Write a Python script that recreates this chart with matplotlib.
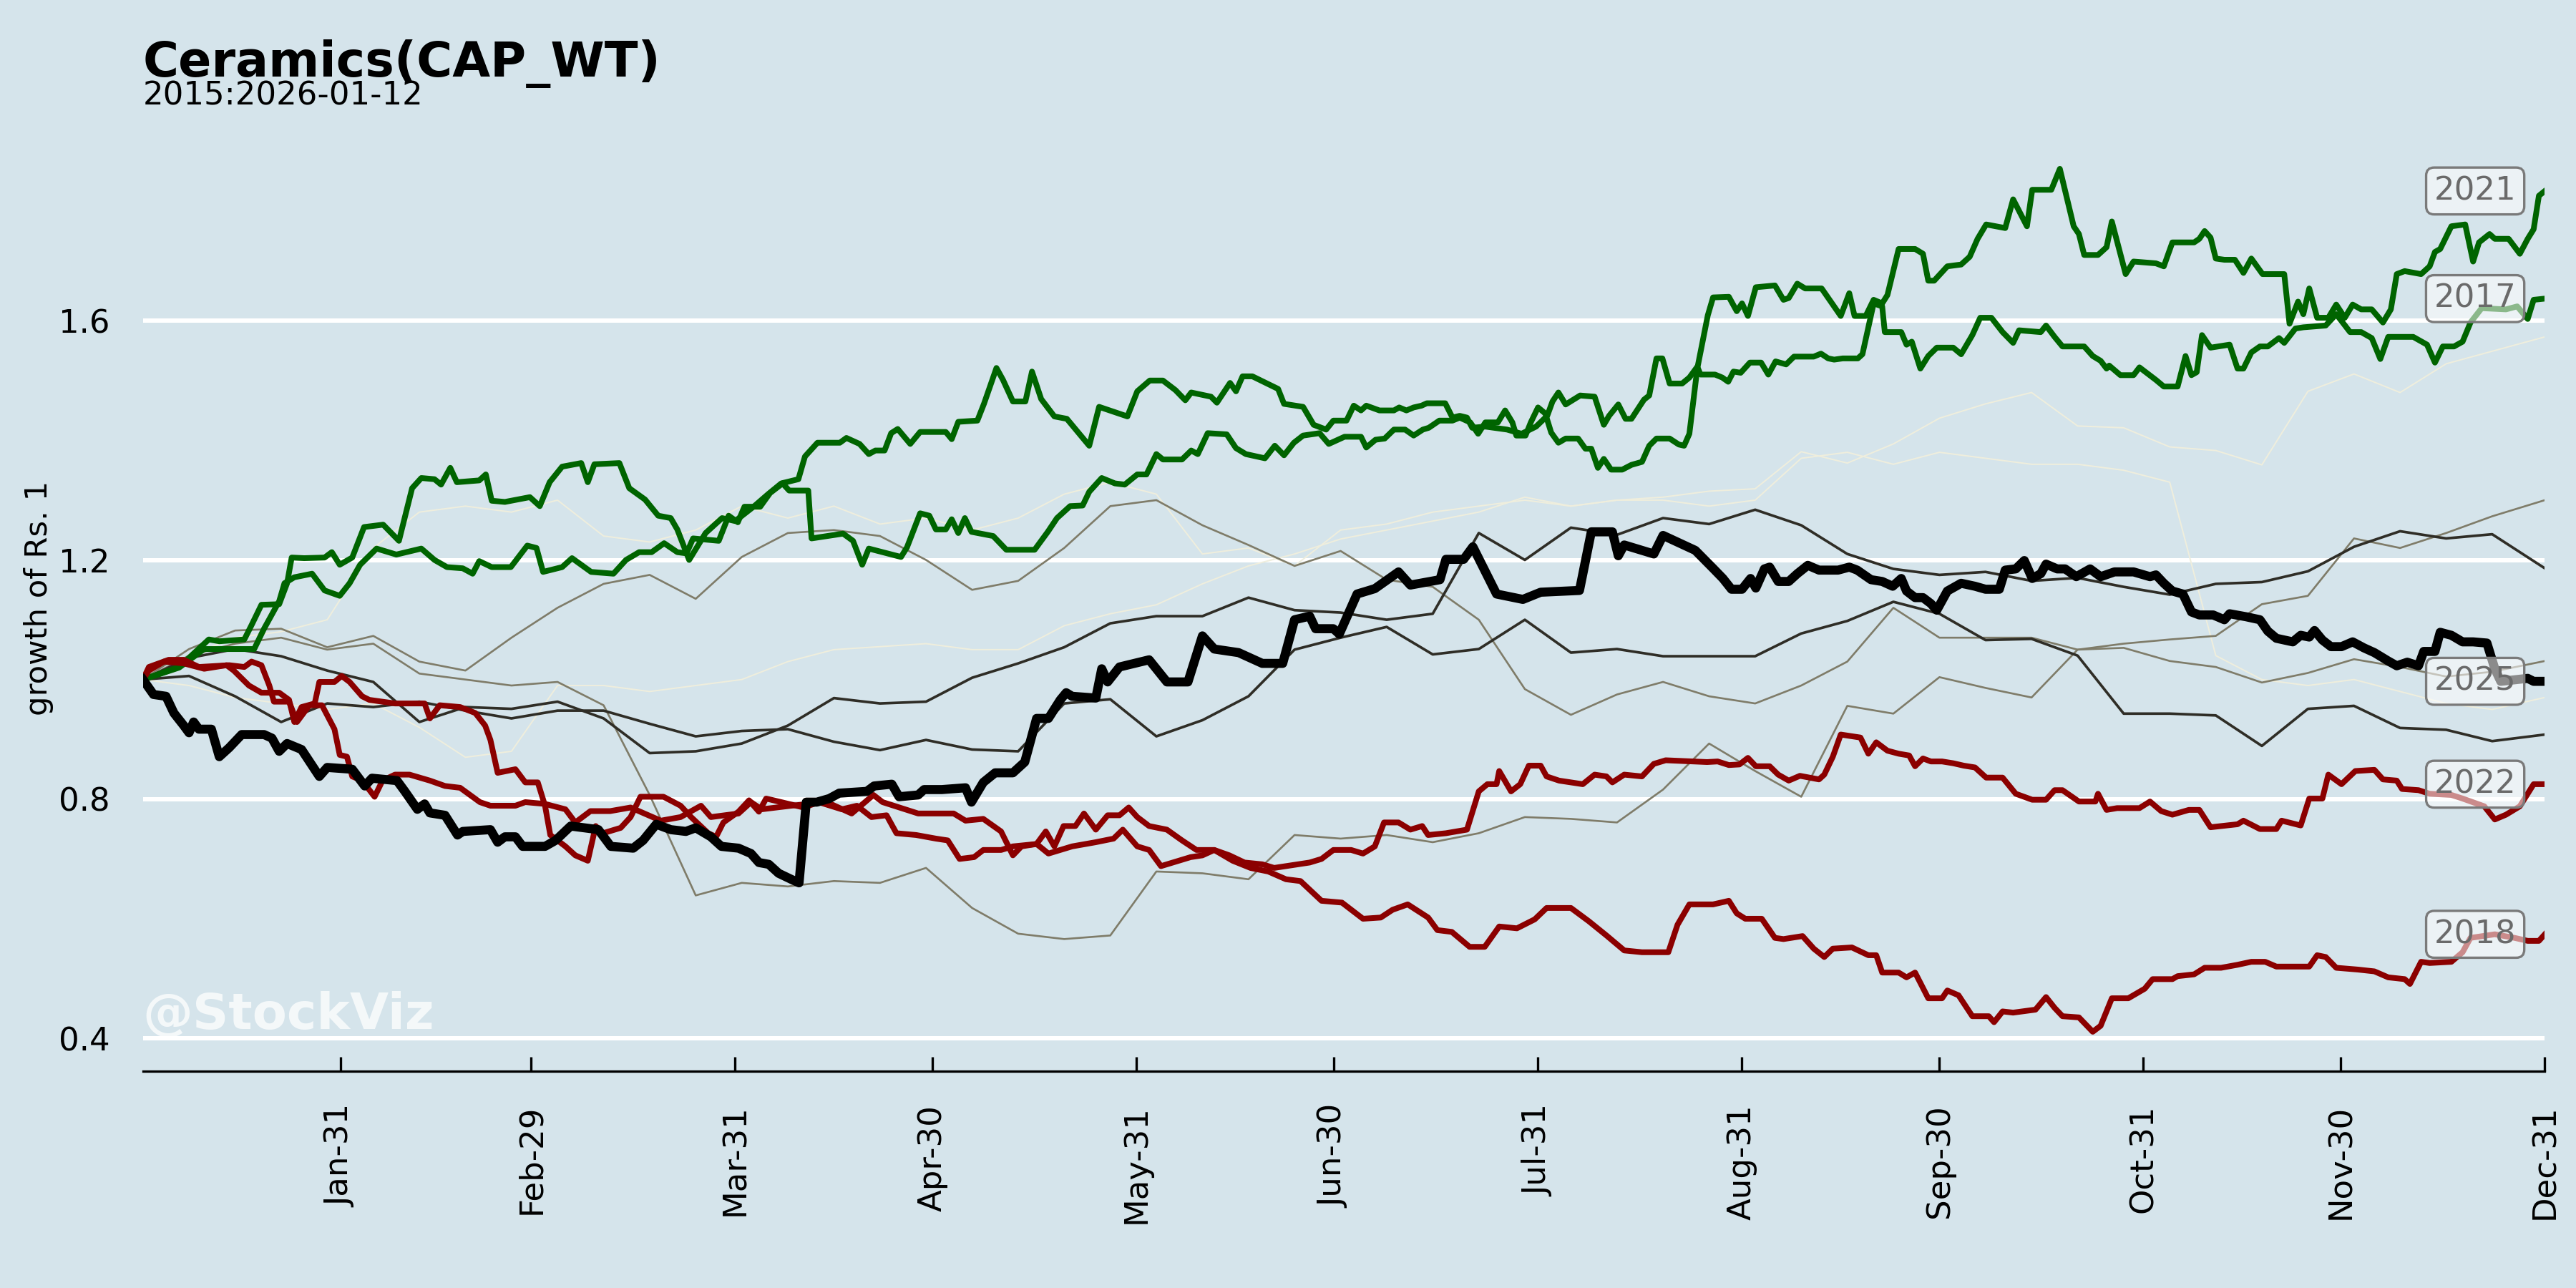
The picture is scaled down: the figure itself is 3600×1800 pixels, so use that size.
import matplotlib
matplotlib.use('Agg')
import matplotlib.pyplot as plt
import matplotlib.dates as mdates
import pandas as pd

# highlighted years: (day of year, growth of Rs. 1)
p2025 = [(1, 1.0), (2.6, 0.975), (4.5, 0.972), (5.7, 0.944), (7.2, 0.923), (8, 0.911), (8.7, 0.929), (9.5, 0.917),
         (11.4, 0.917), (12.6, 0.871), (14.1, 0.886), (16, 0.908), (19.4, 0.908), (20.6, 0.902), (21.7, 0.88),
         (22.9, 0.893), (25.1, 0.883), (27.8, 0.838), (29, 0.853), (32.8, 0.85), (34.7, 0.822), (35.8, 0.835),
         (39.6, 0.831), (40.8, 0.813), (42.7, 0.783), (43.8, 0.792), (44.6, 0.777), (46.9, 0.773), (48.8, 0.74),
         (49.6, 0.746), (53.8, 0.749), (54.9, 0.728), (56, 0.737), (57.6, 0.737), (58.7, 0.721), (62.1, 0.721),
         (63.7, 0.731), (66, 0.755), (70.2, 0.749), (72.1, 0.721), (75.5, 0.718), (77, 0.731), (79, 0.758),
         (81.2, 0.749), (83.5, 0.746), (85, 0.752), (87.3, 0.737), (88.9, 0.721), (91.5, 0.718), (93.4, 0.709),
         (94.6, 0.694), (96.1, 0.691), (97.6, 0.676), (99.5, 0.666), (100.7, 0.66), (101.8, 0.795), (103.4, 0.795),
         (105.3, 0.801), (106.8, 0.81), (111, 0.813), (112.1, 0.822), (114.8, 0.825), (115.9, 0.804), (118.8, 0.807),
         (119.7, 0.816), (122.4, 0.816), (126, 0.819), (126.9, 0.795), (128.7, 0.828), (130.5, 0.844), (133.2, 0.844),
         (135, 0.862), (136.8, 0.935), (138.6, 0.935), (140.4, 0.966), (141.3, 0.978), (142.2, 0.972), (145.8, 0.969),
         (146.7, 1.018), (147.6, 0.996), (149.4, 1.021), (153.9, 1.033), (156.6, 0.996), (159.8, 0.996), (162, 1.073),
         (163.8, 1.051), (167.5, 1.045), (171.1, 1.027), (174.2, 1.027), (176, 1.1), (178.3, 1.106), (179.2, 1.085),
         (181.9, 1.085), (182.8, 1.076), (185.5, 1.143), (188.2, 1.152), (191.8, 1.18), (193.6, 1.158), (198.1, 1.167),
         (199, 1.201), (201.7, 1.201), (203.1, 1.222), (206.7, 1.143), (210.7, 1.134), (213.4, 1.146), (219.3, 1.149),
         (221.1, 1.247), (224.3, 1.247), (225.2, 1.207), (226.1, 1.225), (230.6, 1.21), (232, 1.241), (236.9, 1.216),
         (239.6, 1.186), (241.1, 1.169), (242.4, 1.151), (244, 1.151), (245.3, 1.169), (246.1, 1.153), (247.4, 1.185),
         (248.2, 1.188), (249.5, 1.164), (251.1, 1.164), (252.4, 1.177), (254, 1.191), (255.7, 1.183), (258.6, 1.183),
         (260.3, 1.188), (261.5, 1.183), (263.6, 1.167), (265.3, 1.164), (266.9, 1.156), (268.2, 1.169), (269, 1.148),
         (270.3, 1.137), (271.5, 1.137), (272.7, 1.127), (273.6, 1.116), (275.2, 1.148), (277.3, 1.161), (279.4, 1.156),
         (281, 1.151), (283.1, 1.151), (284, 1.183), (285.6, 1.185), (286.9, 1.199), (288.1, 1.169), (289.4, 1.177),
         (290.2, 1.193), (291.9, 1.185), (293.1, 1.185), (294.8, 1.172), (296.9, 1.185), (298.5, 1.172), (300.6, 1.18),
         (303.5, 1.18), (306, 1.172), (306.9, 1.175), (308.1, 1.161), (309.4, 1.148), (311, 1.143), (312.3, 1.113),
         (313.5, 1.108), (315.6, 1.108), (317.3, 1.1), (318.1, 1.11), (320.6, 1.105), (322.7, 1.1), (323.9, 1.081),
         (325.2, 1.069), (327.7, 1.063), (328.9, 1.074), (330.2, 1.071), (331, 1.082), (332.2, 1.066), (333.5, 1.055),
         (335.1, 1.055), (336.8, 1.063), (338.5, 1.053), (340.1, 1.045), (342.2, 1.031), (343.5, 1.023), (345.1, 1.029),
         (346.8, 1.023), (347.6, 1.047), (349.3, 1.047), (350.1, 1.079), (351.8, 1.074), (353.5, 1.063), (355.1, 1.063),
         (357.2, 1.061), (358.4, 1.018), (359.3, 0.997), (363.4, 1.002), (364.3, 0.997), (366, 0.997)]

p2021 = [(1, 1.0), (6.5, 1.02), (10.3, 1.051), (17.9, 1.051), (19.4, 1.085), (21.7, 1.131), (22.5, 1.161), (24, 1.171),
         (26.7, 1.177), (28.6, 1.149), (30.9, 1.14), (32.4, 1.161), (34, 1.192), (36.5, 1.219), (39.5, 1.209),
         (43.3, 1.219), (45.3, 1.2), (47.2, 1.188), (49.6, 1.186), (51.1, 1.177), (52.1, 1.198), (54, 1.188),
         (56.9, 1.188), (59.4, 1.224), (60.8, 1.22), (61.8, 1.18), (64.7, 1.188), (66.2, 1.203), (69.1, 1.18),
         (72.5, 1.177), (74.4, 1.2), (76.4, 1.213), (78.3, 1.213), (80.2, 1.228), (82.2, 1.213), (83.6, 1.211),
         (84.6, 1.236), (88.5, 1.232), (90, 1.274), (91.4, 1.263), (92.4, 1.289), (94.8, 1.289), (96.3, 1.312),
         (98.2, 1.328), (99.2, 1.316), (102.1, 1.316), (102.6, 1.236), (107.4, 1.244), (108.9, 1.232), (110.3, 1.192),
         (111.3, 1.219), (116.2, 1.205), (117.1, 1.221), (119.1, 1.278), (120.5, 1.274), (121.5, 1.251), (123, 1.251),
         (123.9, 1.268), (124.9, 1.245), (125.9, 1.27), (126.9, 1.247), (130.2, 1.24), (132.2, 1.217), (136.5, 1.217),
         (138.5, 1.247), (139.9, 1.27), (141.9, 1.29), (143.8, 1.291), (144.8, 1.314), (146.7, 1.337), (148.7, 1.328),
         (150.2, 1.326), (152.1, 1.343), (153.5, 1.343), (155, 1.377), (156, 1.368), (158.9, 1.368), (160.3, 1.383),
         (161.3, 1.377), (162.8, 1.412), (165.7, 1.41), (167.1, 1.387), (168.6, 1.377), (171.5, 1.37), (173, 1.391),
         (174.4, 1.375), (175.9, 1.396), (177.3, 1.408), (179.8, 1.412), (181.2, 1.394), (183.6, 1.406), (186.1, 1.406),
         (186.9, 1.388), (188.3, 1.401), (189.7, 1.403), (191.1, 1.418), (192.8, 1.418), (194.1, 1.408), (195.5, 1.418),
         (196.4, 1.421), (198, 1.433), (200, 1.433), (201.1, 1.438), (202.7, 1.43), (203.9, 1.411), (205, 1.43),
         (206.9, 1.43), (208, 1.45), (209.1, 1.43), (209.7, 1.408), (211.1, 1.408), (211.9, 1.43), (213, 1.455),
         (214.1, 1.445), (215, 1.413), (216.1, 1.396), (217.2, 1.403), (219.1, 1.403), (220.2, 1.386), (221.1, 1.386),
         (222.1, 1.354), (223, 1.369), (224.1, 1.351), (225.8, 1.351), (227.2, 1.359), (228.8, 1.364), (229.9, 1.391),
         (231, 1.403), (233, 1.403), (234.4, 1.393), (235.2, 1.391), (236, 1.411), (237.2, 1.52), (238.8, 1.609),
         (239.6, 1.639), (242, 1.64), (243.2, 1.616), (244, 1.629), (244.9, 1.608), (246.1, 1.656), (249, 1.659),
         (250.3, 1.635), (251.1, 1.638), (252.4, 1.662), (253.6, 1.654), (256.1, 1.654), (259, 1.608), (260.3, 1.646),
         (261.1, 1.608), (262.8, 1.608), (264, 1.635), (265.3, 1.629), (266.1, 1.643), (267.8, 1.72), (270.3, 1.72),
         (271.5, 1.712), (272.3, 1.667), (273.2, 1.667), (275.2, 1.691), (277.3, 1.694), (278.6, 1.707), (279.8, 1.737),
         (281.1, 1.761), (284, 1.755), (285.2, 1.803), (287.3, 1.758), (288.1, 1.819), (291, 1.819), (292.3, 1.854),
         (294.4, 1.758), (295.2, 1.745), (296, 1.71), (298.1, 1.71), (299.4, 1.723), (300.2, 1.766), (302.3, 1.678),
         (303.5, 1.699), (306.9, 1.696), (308.1, 1.691), (309.4, 1.731), (312.7, 1.731), (313.5, 1.737), (314.3, 1.75),
         (315.2, 1.739), (316, 1.704), (317.3, 1.702), (318.9, 1.702), (320.2, 1.68), (321.4, 1.704), (323.1, 1.678),
         (326.4, 1.678), (327.2, 1.595), (328.5, 1.632), (329.3, 1.611), (330.2, 1.654), (331.4, 1.605), (333.1, 1.605),
         (334.3, 1.627), (335.6, 1.605), (336.8, 1.627), (338.1, 1.619), (339.7, 1.619), (341.4, 1.597), (342.6, 1.619),
         (343.5, 1.678), (344.7, 1.683), (347.2, 1.678), (348.5, 1.691), (349.3, 1.715), (350.1, 1.72), (351.8, 1.758),
         (353.9, 1.761), (355.1, 1.699), (356, 1.731), (357.6, 1.745), (358.4, 1.737), (360.5, 1.737), (362.2, 1.712),
         (363.4, 1.737), (364.3, 1.753), (365.1, 1.809), (366, 1.817)]

p2017 = [(1, 1.0), (6.5, 1.021), (11, 1.067), (12.6, 1.064), (16.4, 1.067), (17.5, 1.091), (19, 1.125), (21.7, 1.126),
         (22.9, 1.161), (23.6, 1.204), (25.5, 1.203), (28.6, 1.204), (29.7, 1.213), (30.9, 1.192), (32.8, 1.204),
         (34.6, 1.255), (37.5, 1.259), (39.9, 1.232), (41.9, 1.32), (43.3, 1.337), (45.3, 1.335), (46.3, 1.326),
         (47.7, 1.354), (48.7, 1.33), (52.1, 1.333), (53.1, 1.343), (54, 1.299), (56, 1.297), (59.8, 1.305),
         (61.3, 1.29), (62.8, 1.33), (64.7, 1.356), (67.6, 1.362), (68.6, 1.33), (69.6, 1.36), (73.4, 1.362),
         (74.9, 1.32), (77.3, 1.301), (79.3, 1.274), (81.2, 1.27), (82.2, 1.251), (84, 1.2), (86.5, 1.245), (89, 1.27),
         (91, 1.265), (93.9, 1.29), (96, 1.31), (98, 1.328), (100.6, 1.335), (101.6, 1.373), (103.5, 1.396),
         (106.9, 1.396), (107.9, 1.404), (109.9, 1.394), (111.3, 1.377), (112.3, 1.383), (113.7, 1.383), (114.7, 1.412),
         (115.7, 1.419), (117.6, 1.394), (119.1, 1.414), (123, 1.414), (123.9, 1.402), (124.9, 1.431), (127.8, 1.433),
         (128.8, 1.461), (130.7, 1.521), (131.7, 1.501), (133.2, 1.465), (135.1, 1.465), (136.1, 1.515), (137.5, 1.469),
         (139.5, 1.44), (141.4, 1.436), (144.8, 1.391), (146.3, 1.456), (150.6, 1.44), (152.1, 1.482), (154, 1.5),
         (156, 1.5), (157.9, 1.484), (159.4, 1.467), (160.3, 1.48), (163.3, 1.473), (164.2, 1.463), (166.2, 1.496),
         (167.1, 1.482), (168.1, 1.507), (169.6, 1.507), (173.5, 1.486), (174.4, 1.461), (177.3, 1.456), (178.9, 1.426),
         (180.8, 1.418), (181.9, 1.433), (183.9, 1.433), (185, 1.458), (186.1, 1.45), (186.9, 1.458), (188.9, 1.45),
         (191.1, 1.45), (191.9, 1.455), (193, 1.45), (194.1, 1.455), (195.3, 1.458), (196.1, 1.462), (198.9, 1.462),
         (200, 1.438), (201.1, 1.441), (202.2, 1.438), (203, 1.421), (205, 1.423), (208.3, 1.418), (210.5, 1.411),
         (212.7, 1.423), (214.4, 1.441), (215.2, 1.465), (216.1, 1.48), (217.2, 1.46), (219.4, 1.475), (221.6, 1.473),
         (223, 1.426), (223.8, 1.441), (225.2, 1.46), (226.3, 1.436), (227.2, 1.436), (229.1, 1.468), (229.9, 1.475),
         (231, 1.537), (231.9, 1.537), (233, 1.495), (234.9, 1.495), (236, 1.505), (237.2, 1.523), (237.7, 1.51),
         (239.9, 1.51), (241, 1.505), (241.9, 1.498), (242.7, 1.515), (243.8, 1.513), (245.2, 1.53), (246.9, 1.53),
         (248, 1.51), (249.1, 1.532), (250.7, 1.527), (251.9, 1.54), (254.9, 1.54), (256, 1.545), (257.1, 1.537),
         (258, 1.535), (259.3, 1.537), (261.6, 1.537), (262.3, 1.544), (264, 1.629), (265.3, 1.624), (265.7, 1.581),
         (268.2, 1.581), (269, 1.56), (269.8, 1.565), (271.1, 1.52), (272.3, 1.541), (273.6, 1.555), (276.1, 1.555),
         (277.3, 1.544), (279, 1.576), (280.2, 1.605), (281.9, 1.605), (283.6, 1.581), (285.2, 1.563), (286.1, 1.584),
         (289.4, 1.581), (290.2, 1.592), (291.5, 1.573), (292.7, 1.557), (296, 1.557), (297.3, 1.541), (298.5, 1.533),
         (299.4, 1.52), (299.8, 1.525), (301.5, 1.509), (303.5, 1.509), (304.4, 1.522), (306.9, 1.501), (308.1, 1.49),
         (310.2, 1.49), (311.4, 1.541), (312.3, 1.509), (313.1, 1.514), (313.9, 1.576), (315.2, 1.555), (318.1, 1.56),
         (319.3, 1.52), (320.2, 1.52), (321.4, 1.547), (322.7, 1.557), (323.9, 1.557), (325.6, 1.571), (326.4, 1.563),
         (328.1, 1.587), (329.3, 1.589), (332.7, 1.592), (334.3, 1.611), (336.4, 1.581), (338.1, 1.581), (339.7, 1.571),
         (341, 1.536), (342.2, 1.573), (346, 1.573), (348.1, 1.56), (349.3, 1.53), (350.5, 1.557), (352.2, 1.557),
         (353.5, 1.565), (354.7, 1.597), (356.4, 1.621), (360.1, 1.619), (361.8, 1.624), (363.4, 1.603), (364.3, 1.635),
         (366, 1.637)]

p2018 = [(1, 1.0), (1.9, 1.015), (4.2, 1.03), (7.2, 1.027), (10.3, 1.018), (13.7, 1.024), (14.8, 1.015), (17.1, 0.99),
         (19, 0.978), (21.7, 0.978), (23.2, 0.966), (24, 0.929), (25.1, 0.954), (27.1, 0.96), (27.8, 0.996),
         (30.1, 0.996), (31.2, 1.006), (32.4, 0.996), (34.3, 0.972), (35.4, 0.966), (39.3, 0.96), (43.8, 0.96),
         (44.6, 0.935), (46.1, 0.957), (49.2, 0.954), (51.5, 0.944), (53, 0.923), (53.8, 0.899), (54.9, 0.844),
         (57.6, 0.85), (59.1, 0.828), (61, 0.828), (62.1, 0.789), (62.9, 0.74), (65.2, 0.721), (66.7, 0.706),
         (68.6, 0.697), (69.8, 0.755), (70.9, 0.743), (73.6, 0.752), (75.1, 0.77), (76.6, 0.804), (80.1, 0.804),
         (82.7, 0.789), (84.3, 0.77), (86.9, 0.743), (88.1, 0.737), (89.2, 0.761), (91.5, 0.779), (93.1, 0.798),
         (94.6, 0.779), (95.7, 0.801), (98, 0.795), (101.4, 0.786), (103.7, 0.795), (107.2, 0.783), (109.5, 0.789),
         (111.7, 0.77), (114, 0.773), (115.5, 0.743), (118.5, 0.74), (121.5, 0.734), (123.3, 0.731), (125.1, 0.7),
         (127.3, 0.703), (128.7, 0.715), (131.4, 0.715), (133.2, 0.721), (136.8, 0.725), (138.6, 0.709), (142.2, 0.721),
         (145.8, 0.728), (148.5, 0.734), (149.9, 0.749), (152.1, 0.721), (153.9, 0.715), (155.7, 0.688), (157.5, 0.694),
         (160.2, 0.703), (162, 0.706), (163.8, 0.715), (166.6, 0.697), (169.3, 0.685), (172, 0.679), (174.7, 0.666),
         (176.9, 0.663), (180.1, 0.63), (183.2, 0.627), (186.4, 0.6), (189.1, 0.602), (190.9, 0.615), (193.2, 0.624),
         (196.3, 0.602), (197.7, 0.581), (199.9, 0.578), (202.6, 0.553), (204.9, 0.553), (207.1, 0.587), (209.8, 0.584),
         (212.5, 0.599), (214.3, 0.618), (218, 0.618), (220.7, 0.596), (223.4, 0.572), (226.1, 0.547), (228.8, 0.544),
         (232.8, 0.544), (234.2, 0.59), (236, 0.624), (239.6, 0.624), (242, 0.63), (243.2, 0.609), (244.5, 0.6),
         (247, 0.6), (249, 0.568), (250.3, 0.566), (253.2, 0.571), (254.9, 0.55), (256.5, 0.536), (257.8, 0.55),
         (260.7, 0.552), (263.2, 0.539), (264.4, 0.539), (265.3, 0.51), (267.8, 0.51), (269, 0.502), (270.3, 0.51),
         (272.3, 0.467), (274.4, 0.467), (275.2, 0.48), (276.9, 0.472), (279, 0.437), (281.5, 0.437), (282.3, 0.427),
         (283.6, 0.445), (285.2, 0.443), (288.6, 0.448), (290.2, 0.469), (291.5, 0.451), (292.7, 0.437), (295.2, 0.435),
         (297.3, 0.411), (298.5, 0.421), (300.2, 0.467), (302.7, 0.467), (305.2, 0.483), (306.4, 0.499), (309.4, 0.499),
         (310.2, 0.504), (312.7, 0.507), (314.3, 0.518), (316.8, 0.518), (319.3, 0.523), (321.4, 0.528), (323.5, 0.528),
         (325.2, 0.52), (330.2, 0.52), (331.4, 0.539), (332.7, 0.536), (334.3, 0.518), (337.6, 0.515), (340.1, 0.512),
         (342.2, 0.502), (344.7, 0.499), (345.5, 0.491), (347.2, 0.528), (348.5, 0.526), (351.8, 0.528), (353.5, 0.544),
         (354.7, 0.568), (358.4, 0.574), (361.4, 0.568), (363.4, 0.563), (365.1, 0.563), (366, 0.574)]

p2022 = [(1, 1.0), (1.9, 1.021), (4.9, 1.033), (7.2, 1.033), (9.5, 1.021), (14.1, 1.024), (16.4, 1.021), (17.5, 1.03),
         (19, 1.024), (20.2, 0.99), (20.9, 0.963), (23.2, 0.963), (24.4, 0.929), (26.3, 0.957), (28.2, 0.957),
         (30.1, 0.917), (30.9, 0.874), (32, 0.871), (32.8, 0.838), (34.3, 0.831), (36.2, 0.804), (37.4, 0.831),
         (39.3, 0.841), (41.5, 0.841), (44.6, 0.831), (46.9, 0.822), (49.2, 0.819), (52.2, 0.795), (53.8, 0.789),
         (57.6, 0.789), (59.1, 0.795), (62.1, 0.792), (65.2, 0.783), (66.7, 0.761), (69, 0.78), (72, 0.78),
         (75.1, 0.786), (79.7, 0.764), (82.7, 0.77), (85.8, 0.789), (87.3, 0.77), (91.5, 0.776), (93.4, 0.795),
         (95, 0.783), (99.5, 0.789), (104.9, 0.795), (108.7, 0.776), (112, 0.807), (113.4, 0.795), (118.8, 0.776),
         (124.2, 0.776), (126, 0.764), (128.7, 0.767), (131.4, 0.746), (133.2, 0.706), (134.5, 0.721), (136.8, 0.725),
         (138.2, 0.746), (139.5, 0.721), (140.9, 0.755), (142.7, 0.755), (144, 0.776), (145.8, 0.749), (147.6, 0.773),
         (149.4, 0.773), (150.8, 0.786), (152.1, 0.77), (153.9, 0.755), (156.6, 0.749), (158.9, 0.731), (161.1, 0.715),
         (163.8, 0.715), (166.1, 0.706), (168.4, 0.694), (171.1, 0.691), (172.9, 0.685), (174.7, 0.688), (178.3, 0.694),
         (180.1, 0.7), (181.9, 0.715), (184.6, 0.715), (186.4, 0.709), (188.2, 0.721), (189.6, 0.761), (191.8, 0.761),
         (193.6, 0.749), (195.4, 0.755), (196.3, 0.74), (199, 0.743), (202.2, 0.749), (204, 0.813), (205.3, 0.825),
         (206.7, 0.825), (207.1, 0.847), (208.9, 0.813), (210.3, 0.825), (211.6, 0.856), (213.4, 0.856), (214.3, 0.838),
         (216.2, 0.831), (219.8, 0.825), (221.6, 0.841), (223.4, 0.838), (224.3, 0.828), (226.1, 0.841), (228.8, 0.838),
         (230.6, 0.859), (232.4, 0.865), (238.7, 0.862), (240.3, 0.863), (242, 0.857), (243.6, 0.858), (244.9, 0.869),
         (246.1, 0.855), (248.2, 0.855), (249.5, 0.841), (251.1, 0.831), (252.8, 0.839), (255.7, 0.833), (256.5, 0.841),
         (257.8, 0.871), (259, 0.908), (262, 0.903), (263.2, 0.876), (264.4, 0.895), (266.1, 0.881), (267.8, 0.876),
         (269.4, 0.873), (270.3, 0.855), (271.5, 0.868), (272.7, 0.863), (274.4, 0.863), (276.1, 0.86), (277.7, 0.856),
         (279.4, 0.853), (281.1, 0.836), (283.6, 0.836), (285.6, 0.809), (288.1, 0.799), (290.2, 0.799), (291.5, 0.815),
         (292.7, 0.815), (295.2, 0.796), (297.7, 0.796), (298.1, 0.809), (299.4, 0.782), (301, 0.785), (304.4, 0.785),
         (306, 0.796), (307.7, 0.78), (309.4, 0.774), (311.9, 0.782), (313.5, 0.782), (315.2, 0.753), (319.3, 0.758),
         (320.2, 0.764), (322.7, 0.75), (325.2, 0.75), (326, 0.764), (328.9, 0.756), (330.2, 0.801), (332.2, 0.801),
         (333.1, 0.841), (335.1, 0.825), (337.2, 0.847), (340.1, 0.849), (341.4, 0.833), (343.5, 0.831), (344.3, 0.817),
         (346.8, 0.815), (348.5, 0.809), (351.8, 0.807), (353.5, 0.801), (356.8, 0.788), (358.4, 0.766), (360.1, 0.774),
         (362.2, 0.788), (364.3, 0.825), (366, 0.825)]

# the other years, read weekly (last point on Dec-31)
week_days = list(range(1, 359, 7)) + [366]
y2024 = [1.0, 1.036, 1.051, 1.039, 1.015, 0.996, 0.929, 0.954, 0.951, 0.963, 0.935, 0.877, 0.88, 0.893, 0.923,
         0.969, 0.96, 0.963, 1.003, 1.027, 1.054, 1.094, 1.106, 1.106, 1.137, 1.116, 1.112, 1.10, 1.11, 1.245,
         1.2, 1.254, 1.242, 1.27, 1.26, 1.284, 1.258, 1.21, 1.185, 1.175, 1.18, 1.165, 1.17, 1.155, 1.142,
         1.16, 1.163, 1.181, 1.222, 1.248, 1.236, 1.243, 1.186]
y2023 = [1.0, 1.006, 0.972, 0.929, 0.96, 0.954, 0.963, 0.948, 0.935, 0.948, 0.948, 0.926, 0.905, 0.914, 0.917,
         0.896, 0.882, 0.899, 0.883, 0.88, 0.96, 0.967, 0.905, 0.932, 0.972, 1.05, 1.07, 1.088, 1.042, 1.051,
         1.1, 1.045, 1.051, 1.039, 1.039, 1.039, 1.077, 1.098, 1.13, 1.11, 1.066, 1.068, 1.04, 0.943, 0.943,
         0.94, 0.889, 0.951, 0.956, 0.919, 0.916, 0.897, 0.908]
y2020 = [1.0, 1.051, 1.082, 1.085, 1.054, 1.073, 1.03, 1.015, 1.07, 1.12, 1.16, 1.175, 1.135, 1.205, 1.245,
         1.25, 1.24, 1.2, 1.15, 1.165, 1.22, 1.29, 1.3, 1.258, 1.225, 1.19, 1.215, 1.167, 1.155, 1.1,
         0.984, 0.941, 0.975, 0.996, 0.972, 0.96, 0.99, 1.03, 1.12, 1.07, 1.07, 1.07, 1.05, 1.06, 1.067,
         1.073, 1.126, 1.14, 1.236, 1.22, 1.245, 1.273, 1.3]
y2019 = [1.0, 1.04, 1.06, 1.07, 1.05, 1.06, 1.01, 1.0, 0.99, 0.996, 0.957, 0.807, 0.639, 0.66, 0.654,
         0.663, 0.66, 0.685, 0.618, 0.575, 0.566, 0.572, 0.679, 0.676, 0.666, 0.74, 0.734, 0.74, 0.728, 0.743,
         0.77, 0.767, 0.761, 0.816, 0.893, 0.847, 0.804, 0.956, 0.943, 1.004, 0.986, 0.97, 1.05, 1.053, 1.031,
         1.021, 0.995, 1.011, 1.034, 1.021, 1.005, 1.013, 1.031]
y2016 = [1.0, 0.99, 0.97, 0.96, 0.95, 0.96, 0.92, 0.87, 0.88, 0.99, 0.99, 0.98, 0.99, 1.0, 1.03,
         1.05, 1.055, 1.06, 1.05, 1.05, 1.09, 1.11, 1.125, 1.16, 1.19, 1.21, 1.235, 1.25, 1.265, 1.28,
         1.305, 1.29, 1.3, 1.305, 1.315, 1.319, 1.381, 1.362, 1.394, 1.437, 1.461, 1.48, 1.424, 1.421, 1.389,
         1.383, 1.359, 1.482, 1.511, 1.48, 1.528, 1.549, 1.573]
y2015 = [1.0, 1.04, 1.07, 1.08, 1.1, 1.22, 1.28, 1.29, 1.28, 1.3, 1.24, 1.23, 1.25, 1.29, 1.27,
         1.29, 1.26, 1.27, 1.25, 1.27, 1.31, 1.33, 1.31, 1.21, 1.22, 1.19, 1.25, 1.26, 1.28, 1.29,
         1.3, 1.29, 1.3, 1.3, 1.29, 1.3, 1.37, 1.38, 1.36, 1.38, 1.37, 1.36, 1.36, 1.35, 1.33,
         1.04, 1.0, 0.99, 1.0, 0.98, 0.96, 0.95, 0.97]

title = 'Ceramics(CAP_WT)'
subtitle = '2015:2026-01-12'

bg = '#d5e4eb'
jan1 = pd.Timestamp('2024-01-01')   # leap-year calendar so that Feb-29 exists


def to_dates(days):
    return [jan1 + pd.Timedelta(days=d - 1) for d in days]


fig = plt.figure(figsize=(15, 7.5), dpi=240, facecolor=bg)
ax = fig.add_axes([0.0555, 0.1683, 0.9324, 0.7345], facecolor=bg)

# unremarkable years: thin, shaded pale -> dark
wk = to_dates(week_days)
for vals, col, lw in [(y2015, '#efeedd', 0.6), (y2016, '#efeedd', 0.6),
                      (y2019, '#7f7c69', 0.8), (y2020, '#7f7c69', 0.8),
                      (y2023, '#2f2d26', 1.1), (y2024, '#2f2d26', 1.1)]:
    ax.plot(wk, vals, color=col, lw=lw, zorder=2)

# best two green, worst two red, current year thick black
marked = [(2021, p2021, 'darkgreen', 2.4), (2017, p2017, 'darkgreen', 2.4),
          (2022, p2022, 'darkred', 2.4), (2018, p2018, 'darkred', 2.4),
          (2025, p2025, 'black', 3.8)]
for yr, pts, col, lw in marked:
    days = [p[0] for p in pts]
    vals = [p[1] for p in pts]
    ax.plot(to_dates(days), vals, color=col, lw=lw, zorder=4 if yr == 2025 else 3)
    ax.annotate(str(yr), xy=(to_dates([days[-1]])[0], vals[-1]), xytext=(-12, 0), textcoords='offset points',
                ha='right', va='center', fontsize=13.5, color='#6a6a6a', zorder=6,
                bbox=dict(boxstyle='round,pad=0.25', fc=(1, 1, 1, 0.55), ec='#7a7a7a', lw=1))

ax.set_xlim(jan1, pd.Timestamp('2024-12-31'))
ax.set_ylim(0.345, 1.927)
ax.set_yticks([0.4, 0.8, 1.2, 1.6])
ax.yaxis.grid(True, color='white', lw=1.8)
ax.xaxis.grid(False)
ax.set_axisbelow(True)

ax.xaxis.set_major_locator(mdates.MonthLocator(bymonthday=-1))
ax.xaxis.set_major_formatter(mdates.DateFormatter('%b-%d'))
ax.tick_params(axis='x', direction='in', length=6, width=1, pad=14, labelsize=13.5, labelrotation=90)
ax.tick_params(axis='y', length=0, pad=14, labelsize=13.5)

for s in ['top', 'right', 'left']:
    ax.spines[s].set_visible(False)
ax.spines['bottom'].set_color('black')
ax.spines['bottom'].set_linewidth(1.0)

ax.set_ylabel('growth of Rs. 1', fontsize=13, labelpad=2)

ax.text(0.0, 0.045, '@StockViz', transform=ax.transAxes, fontsize=21, fontweight='bold',
        color='white', alpha=0.75, ha='left', va='baseline', zorder=1)

fig.text(0.0555, 0.9406, title, fontsize=20.5, fontweight='bold', va='baseline')
fig.text(0.0555, 0.9186, subtitle, fontsize=13.5, va='baseline')

fig.savefig('out.png', dpi=240, facecolor=bg)
